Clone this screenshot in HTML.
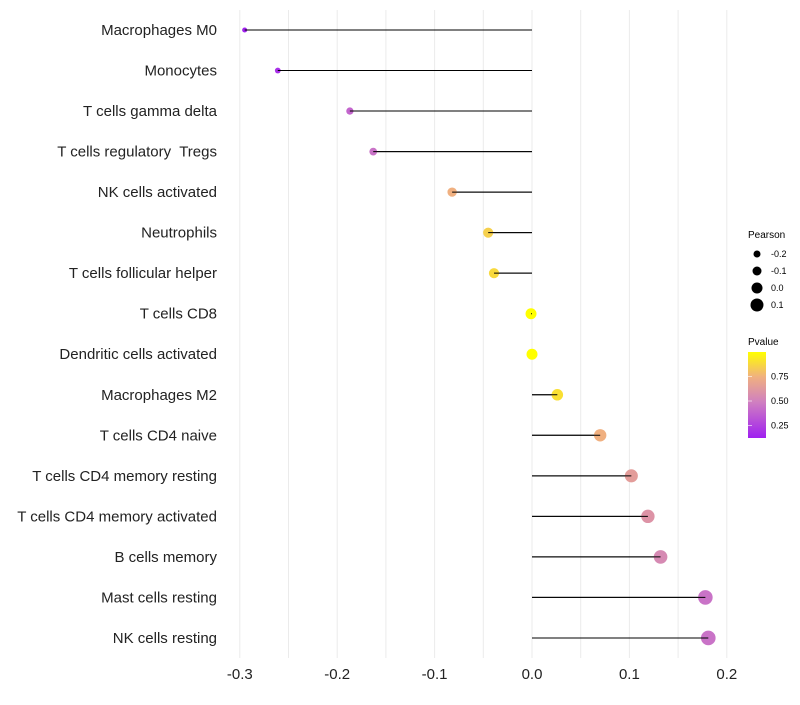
<!DOCTYPE html>
<html><head><meta charset="utf-8"><style>
body{margin:0;background:#fff;font-family:"Liberation Sans",sans-serif;}
svg text{font-family:"Liberation Sans",sans-serif;white-space:pre;}
</style></head><body>
<svg id="chart" width="800" height="700" xmlns="http://www.w3.org/2000/svg">
<defs><linearGradient id="pg" x1="0" y1="1" x2="0" y2="0">
<stop offset="0" stop-color="#A020F0"/><stop offset="0.42" stop-color="#D080C0"/><stop offset="0.71" stop-color="#F0B080"/><stop offset="1" stop-color="#FFFF00"/></linearGradient></defs>
<g id="grid"></g><g id="marks"></g><g id="labels"></g><g id="xticks"></g>
<g id="legend">
<text x="748" y="238" font-size="10">Pearson</text>
<g id="sizeLeg"></g>
<text x="748" y="345" font-size="10">Pvalue</text>
<rect x="748" y="352" width="18" height="86" fill="url(#pg)"/>
<g id="colLeg"></g>
</g>
</svg>
<script>
const categories=["Macrophages M0","Monocytes","T cells gamma delta","T cells regulatory  Tregs","NK cells activated","Neutrophils","T cells follicular helper","T cells CD8","Dendritic cells activated","Macrophages M2","T cells CD4 naive","T cells CD4 memory resting","T cells CD4 memory activated","B cells memory","Mast cells resting","NK cells resting"];
const pearson=[-0.295,-0.261,-0.187,-0.163,-0.082,-0.045,-0.039,-0.001,0.0,0.026,0.070,0.102,0.119,0.132,0.178,0.181];
const pvalue=[0.15,0.2,0.4,0.45,0.75,0.85,0.88,1.0,1.0,0.9,0.75,0.65,0.6,0.55,0.45,0.45];
const xTicks=[-0.3,-0.2,-0.1,0.0,0.1,0.2];
const sizeBreaks=[-0.2,-0.1,0.0,0.1];
const colBreaks=[0.25,0.5,0.75];
const NS="http://www.w3.org/2000/svg";
const x=v=>532+v*974;
const y=i=>30+i*40.53;
const r=v=>5.5+10*v;
const stops=[[0.14,[160,32,240]],[0.5,[208,128,192]],[0.75,[240,176,128]],[1.0,[255,255,0]]];
function col(p){p=Math.max(0.14,Math.min(1,p));for(let k=0;k<stops.length-1;k++){const a=stops[k],b=stops[k+1];if(p<=b[0]){const t=(p-a[0])/(b[0]-a[0]);return "rgb("+a[1].map((c,j)=>Math.round(c+(b[1][j]-c)*t)).join(",")+")";}}return "rgb(255,255,0)";}
function mk(tag,at,parent){const e=document.createElementNS(NS,tag);for(const k in at)e.setAttribute(k,at[k]);document.getElementById(parent).appendChild(e);return e;}
for(let v=-0.3;v<=0.2001;v+=0.05){const g=mk("line",{x1:x(v),x2:x(v),y1:10,y2:658,stroke:"#ebebeb","stroke-width":1},"grid");

}
xTicks.forEach(t=>{const e=mk("text",{x:x(t),y:679,"font-size":15,"text-anchor":"middle",fill:"#222"},"xticks");e.textContent=t.toFixed(1);

});
categories.forEach((c,i)=>{
const t=mk("text",{x:217,y:y(i)+5,"font-size":15,"text-anchor":"end",fill:"#222"},"labels");t.textContent=c;


const l=mk("line",{x1:x(0),x2:x(pearson[i]),y1:y(i),y2:y(i),stroke:"#000","stroke-width":1},"marks");


const d=mk("circle",{cx:x(pearson[i]),cy:y(i),r:r(pearson[i]),fill:col(pvalue[i])},"marks");


const s=mk("line",{x1:x(0),x2:x(pearson[i]),y1:y(i),y2:y(i),stroke:"#000","stroke-width":1},"marks");


});
sizeBreaks.forEach((b,i)=>{const cy=254+i*17;
const c=mk("circle",{cx:757,cy:cy,r:r(b),fill:"#000"},"sizeLeg");


const t=mk("text",{x:771,y:cy+3,"font-size":9},"sizeLeg");t.textContent=b.toFixed(1);

});
colBreaks.forEach(b=>{const cy=352+(1.0-b)/0.25*24.5;
const t=mk("text",{x:771,y:cy+3,"font-size":9},"colLeg");t.textContent=b.toFixed(2);


const l=mk("line",{x1:748,x2:752,y1:cy,y2:cy,stroke:"#fff","stroke-width":0.6},"colLeg");

});
</script>
</body></html>
